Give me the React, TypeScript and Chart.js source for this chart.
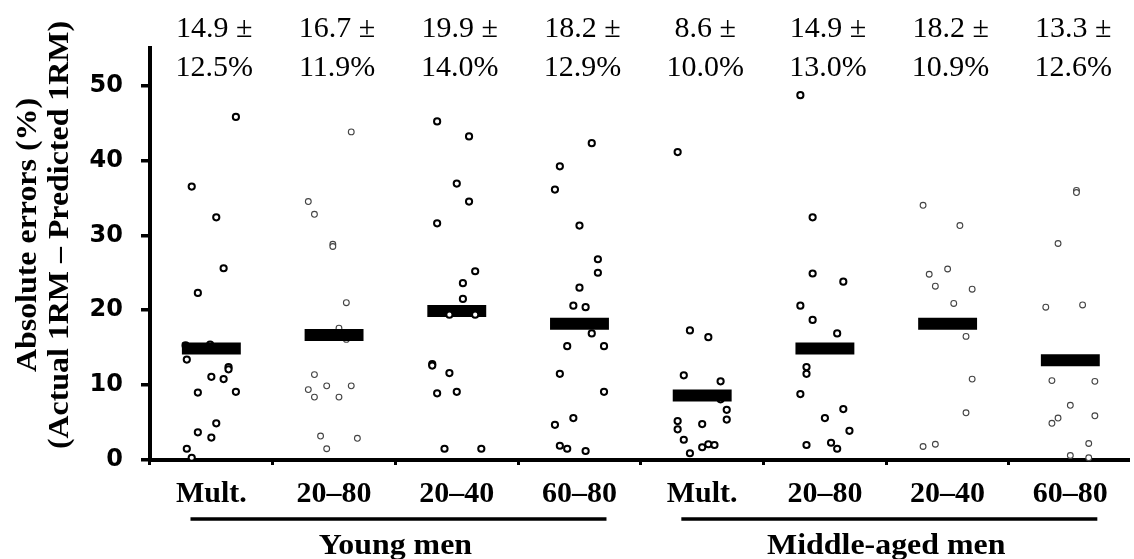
import React, { useEffect, useRef } from "react";
import { Chart, registerables } from "chart.js";

Chart.register(...registerables);

// ---------- data ----------
const categories = ["Mult.", "20–80", "20–40", "60–80", "Mult.", "20–80", "20–40", "60–80"];
const groupNames = ["Young men", "Middle-aged men"];
const groupMembers = [[0, 1, 2, 3], [4, 5, 6, 7]];
const meanValues = [14.9, 16.7, 19.9, 18.2, 8.6, 14.9, 18.2, 13.3];
const sdValues = [12.5, 11.9, 14.0, 12.9, 10.0, 13.0, 10.9, 12.6];
const yTickValues = [0, 10, 20, 30, 40, 50];
const yTitleLines = ["Absolute errors (%)", "(Actual 1RM – Predicted 1RM)"];

// individual absolute errors: [jitter within category, value %]
const youngMult = [
  [0.2, 45.8], [-0.16, 36.5], [0.04, 32.4], [0.1, 25.6], [-0.11, 22.3], [-0.21, 15.3],
  [-0.01, 15.4], [-0.2, 13.4], [0.14, 12.4], [0.14, 12.1], [0.0, 11.1], [0.1, 10.8],
  [-0.11, 9.0], [0.2, 9.1], [0.04, 4.9], [-0.11, 3.7], [0.0, 3.0], [-0.2, 1.5], [-0.16, 0.3],
];
const young2080 = [
  [0.14, 43.8], [-0.21, 34.5], [-0.16, 32.8], [-0.01, 28.8], [-0.01, 28.5], [0.1, 21.0],
  [0.04, 17.6], [0.1, 16.1], [-0.16, 11.4], [-0.06, 9.9], [0.14, 9.9], [-0.21, 9.4],
  [-0.16, 8.4], [0.04, 8.4], [-0.11, 3.2], [0.19, 2.9], [-0.06, 1.5],
];
const young2040 = [
  [-0.16, 45.2], [0.1, 43.2], [0.0, 36.9], [0.1, 34.5], [-0.16, 31.6], [0.15, 25.2],
  [0.05, 23.6], [0.05, 21.5], [-0.06, 19.4], [0.15, 19.4], [-0.2, 12.8], [-0.2, 12.6],
  [-0.06, 11.6], [-0.16, 8.9], [0.0, 9.1], [-0.1, 1.5], [0.2, 1.5],
];
const young6080 = [
  [0.1, 42.3], [-0.16, 39.2], [-0.2, 36.1], [0.0, 31.3], [0.15, 26.8], [0.15, 25.0],
  [0.0, 23.0], [-0.05, 20.6], [0.05, 20.4], [0.1, 16.9], [-0.1, 15.2], [0.2, 15.2],
  [-0.16, 11.5], [0.2, 9.1], [-0.2, 4.7], [-0.05, 5.6], [-0.16, 1.9], [-0.1, 1.5], [0.05, 1.2],
];
const middleMult = [
  [-0.2, 41.1], [-0.1, 17.3], [0.05, 16.4], [-0.15, 11.3], [0.15, 10.5], [0.15, 8.1],
  [0.2, 6.7], [0.2, 5.4], [-0.2, 5.2], [-0.2, 4.1], [0.0, 4.8], [-0.15, 2.7],
  [0.0, 1.7], [0.05, 2.1], [0.1, 2.0], [-0.1, 0.9],
];
const middle2080 = [
  [-0.2, 48.7], [-0.1, 32.4], [-0.1, 24.9], [0.15, 23.8], [-0.2, 20.6], [-0.1, 18.7],
  [0.1, 16.9], [-0.15, 12.4], [-0.15, 11.5], [-0.2, 8.8], [0.15, 6.8], [0.0, 5.6],
  [0.2, 3.9], [-0.15, 2.0], [0.05, 2.3], [0.1, 1.5],
];
const middle2040 = [
  [-0.2, 34.0], [0.1, 31.3], [0.0, 25.5], [-0.15, 24.8], [-0.1, 23.2], [0.2, 22.8],
  [0.05, 20.9], [0.15, 16.5], [0.2, 10.8], [0.15, 6.3], [-0.2, 1.8], [-0.1, 2.1],
];
const middle6080 = [
  [0.05, 36.0], [0.05, 35.7], [-0.1, 28.9], [-0.2, 20.4], [0.1, 20.7], [-0.15, 10.6],
  [0.2, 10.5], [0.0, 7.3], [-0.1, 5.6], [-0.15, 4.9], [0.2, 5.9], [0.15, 2.2],
  [0.0, 0.6], [0.15, 0.3],
];
const seriesByCategory = [
  youngMult, young2080, young2040, young6080,
  middleMult, middle2080, middle2040, middle6080,
];

// ---------- styling ----------
const THIN_GROUPS = [1, 6, 7];
const POINTS_ON_TOP = [2];
const MEAN_HALF_WIDTH = 0.24;
const SERIF = '"Liberation Serif", "Times New Roman", serif';

const overlayPlugin = {
  id: "overlayText",
  afterDraw(chart: any) {
    const { ctx } = chart;
    const x = chart.scales.x;
    ctx.save();
    ctx.fillStyle = "#000";
    ctx.strokeStyle = "#000";

    // mean ± SD annotations
    ctx.font = `30px ${SERIF}`;
    ctx.textAlign = "center";
    ctx.textBaseline = "alphabetic";
    meanValues.forEach((m, i) => {
      const px = x.getPixelForValue(i) + 3;
      ctx.fillText(`${m.toFixed(1)} ±`, px, 37);
      ctx.fillText(`${sdValues[i].toFixed(1)}%`, px, 76);
    });

    // group underlines and labels
    ctx.lineWidth = 3.5;
    ctx.font = `bold 29px ${SERIF}`;
    groupMembers.forEach((members, g) => {
      const first = members[0];
      const last = members[members.length - 1];
      const x0 = x.getPixelForValue(first - 0.17);
      const x1 = x.getPixelForValue(last + 0.22);
      ctx.beginPath();
      ctx.moveTo(x0, 519);
      ctx.lineTo(x1, 519);
      ctx.stroke();
      const cx = x.getPixelForValue((first + last) / 2);
      ctx.save();
      ctx.translate(cx, 554);
      ctx.scale(1.1, 1);
      ctx.fillText(groupNames[g], 0, 0);
      ctx.restore();
    });

    // y-axis title (two lines, rotated)
    ctx.textBaseline = "middle";
    ctx.font = `bold 29px ${SERIF}`;
    const titleX = [29, 61];
    yTitleLines.forEach((line, i) => {
      ctx.save();
      ctx.translate(titleX[i], 235);
      ctx.rotate(-Math.PI / 2);
      ctx.scale(1.1, 1);
      ctx.fillText(line, 0, 0);
      ctx.restore();
    });
    ctx.restore();
  },
};

export default function App() {
  const canvasRef = useRef<HTMLCanvasElement | null>(null);

  useEffect(() => {
    const canvas = canvasRef.current;
    if (!canvas) return;

    const pointSets = seriesByCategory.map((pts, i) => {
      const thin = THIN_GROUPS.includes(i);
      return {
        type: "scatter" as const,
        label: categories[i],
        data: pts.map(([dx, v]) => ({ x: i + dx, y: v })),
        pointRadius: thin ? 2.9 : 3.1,
        pointBorderWidth: thin ? 1.1 : 2,
        pointBackgroundColor: "#fff",
        pointBorderColor: thin ? "#444" : "#000",
        showLine: false,
        clip: false as any,
        order: POINTS_ON_TOP.includes(i) ? -1 : 1,
      };
    });

    const meanSets = meanValues.map((m, i) => ({
      type: "scatter" as const,
      label: `mean ${i}`,
      data: [
        { x: i - MEAN_HALF_WIDTH, y: m },
        { x: i + MEAN_HALF_WIDTH, y: m },
      ],
      showLine: true,
      borderColor: "#000",
      borderWidth: 12,
      borderCapStyle: "butt" as const,
      pointRadius: 0,
      pointHoverRadius: 0,
      clip: false as any,
      order: 0,
    }));

    const chart = new Chart(canvas, {
      type: "scatter",
      data: { datasets: [...pointSets, ...meanSets] as any },
      options: {
        responsive: false,
        animation: false,
        devicePixelRatio: 1,
        layout: { padding: { top: 48, left: 0, right: 0, bottom: 0 } },
        plugins: {
          legend: { display: false },
          tooltip: { enabled: false },
        },
        scales: {
          x: {
            type: "linear",
            min: -0.5,
            max: 7.47,
            afterFit: (s: any) => {
              s.height = 99;
            },
            afterBuildTicks: (s: any) => {
              s.ticks = categories.map((_, i) => ({ value: i }));
            },
            grid: {
              offset: true,
              drawOnChartArea: false,
              drawTicks: true,
              tickLength: 5,
              lineWidth: 3,
              color: "#000",
            },
            border: { display: true, color: "#000", width: 4 },
            ticks: {
              autoSkip: false,
              maxRotation: 0,
              padding: 11,
              color: "#000",
              font: { family: SERIF, size: 30, weight: "bold" },
              callback: (v: any) => categories[Math.round(Number(v))] ?? "",
            },
          },
          y: {
            type: "linear",
            min: 0,
            max: 55,
            afterFit: (s: any) => {
              s.width = 150;
            },
            afterBuildTicks: (s: any) => {
              s.ticks = yTickValues.map((v) => ({ value: v }));
            },
            grid: {
              drawOnChartArea: false,
              drawTicks: true,
              tickLength: 9,
              lineWidth: 3.5,
              color: "#000",
            },
            border: { display: true, color: "#000", width: 4 },
            ticks: {
              padding: 18,
              color: "#000",
              font: { family: '"DejaVu Sans", sans-serif', size: 24, weight: "bold" },
            },
          },
        },
      },
      plugins: [overlayPlugin],
    });

    return () => chart.destroy();
  }, []);

  return (
    <div style={{ position: "fixed", left: 0, top: 0, width: 1134, height: 559, background: "#fff" }}>
      <canvas ref={canvasRef} width={1134} height={559} style={{ display: "block" }} />
    </div>
  );
}
